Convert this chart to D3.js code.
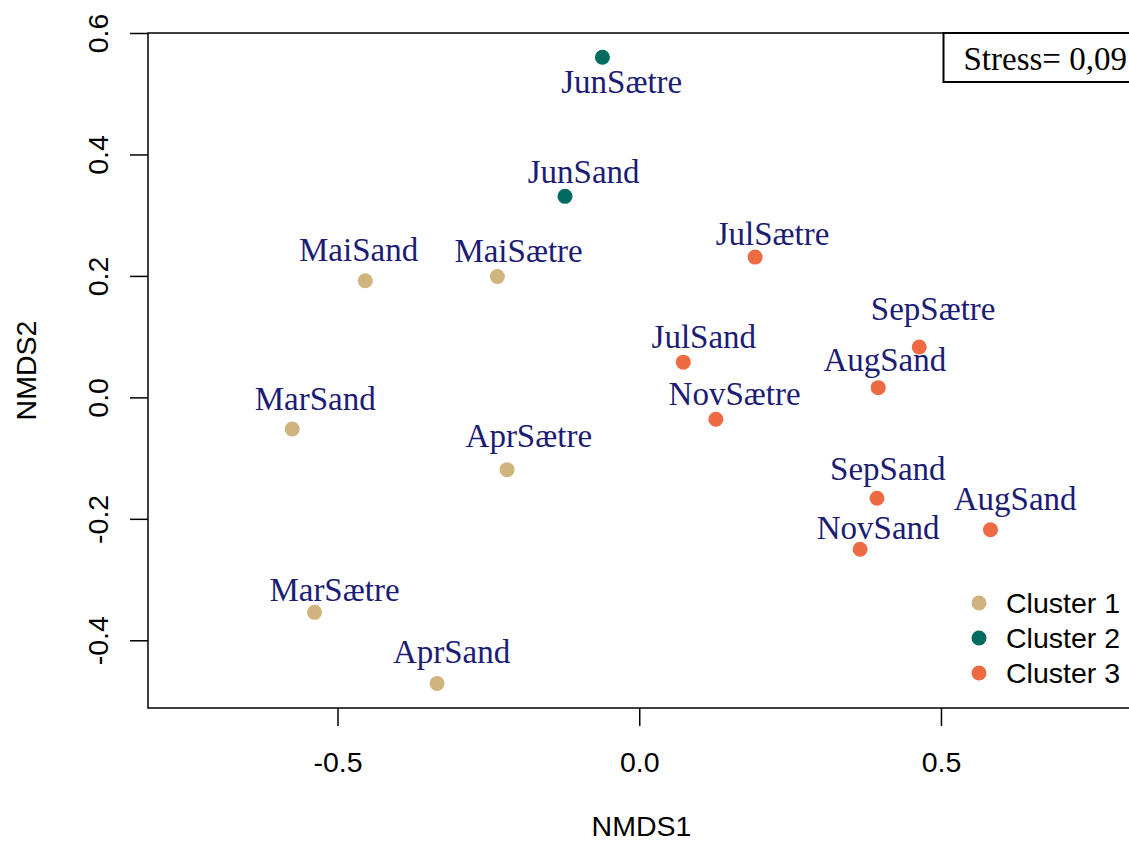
<!DOCTYPE html>
<html>
<head>
<meta charset="utf-8">
<script src="https://cdn.jsdelivr.net/npm/d3@7"></script>
<style>
  body { margin: 0; background: #fff; }
  svg { display: block; }
</style>
</head>
<body>
<svg id="chart" width="1129" height="841"></svg>
<script>
// site scores
const sites = ["JunSætre", "JunSand", "MaiSand", "MaiSætre", "JulSætre", "JulSand", "SepSætre", "AugSand",
               "NovSætre", "MarSand", "AprSætre", "SepSand", "AugSand", "NovSand", "MarSætre", "AprSand"];
const nmds1 = [-0.061, -0.123, -0.454, -0.235, 0.192, 0.073, 0.464, 0.396,
               0.127, -0.575, -0.219, 0.394, 0.582, 0.366, -0.538, -0.335];
const nmds2 = [0.560, 0.331, 0.192, 0.199, 0.231, 0.058, 0.083, 0.016,
               -0.036, -0.052, -0.119, -0.166, -0.218, -0.250, -0.354, -0.471];
const cluster = [2, 2, 1, 1, 3, 3, 3, 3, 3, 1, 1, 3, 3, 3, 1, 1];
// where each label sits (data units: centre x, baseline y)
const labelX = [-0.029, -0.092, -0.465, -0.200, 0.221, 0.107, 0.487, 0.407,
                0.158, -0.537, -0.183, 0.412, 0.623, 0.396, -0.505, -0.311];
const labelY = [0.502, 0.353, 0.224, 0.223, 0.251, 0.082, 0.127, 0.043,
                -0.013, -0.021, -0.081, -0.136, -0.186, -0.234, -0.335, -0.437];

const clusterNames = ["Cluster 1", "Cluster 2", "Cluster 3"];
const clusterColors = ["#d0b47e", "#006b5f", "#ee6a42"];
const xTicks = [-0.5, 0.0, 0.5];
const yTicks = [-0.4, -0.2, 0.0, 0.2, 0.4, 0.6];
const stressText = "Stress= 0,09";

const margin = {top: 33, left: 148, bottom: 708, right: 1135};
const sans = "'Liberation Sans', Arial, Helvetica, sans-serif";
const serif = "'Liberation Serif', 'Times New Roman', serif";

const svg = d3.select("#chart");

const x = d3.scaleLinear()
    .domain([-0.814, 0.8215])
    .range([margin.left, margin.right]);
const y = d3.scaleLinear()
    .domain([-0.5115, 0.6])
    .range([margin.bottom, margin.top]);
const color = d3.scaleOrdinal().domain([1, 2, 3]).range(clusterColors);

// box
svg.append("rect")
    .attr("x", margin.left).attr("y", margin.top)
    .attr("width", margin.right - margin.left)
    .attr("height", margin.bottom - margin.top)
    .attr("fill", "none").attr("stroke", "#000").attr("stroke-width", 1.5);

const xAxis = svg.append("g")
    .attr("transform", `translate(0,${margin.bottom})`)
    .call(d3.axisBottom(x).tickValues(xTicks).tickSize(18).tickFormat(d => d.toFixed(1)));
xAxis.select(".domain").remove();
xAxis.selectAll("line").attr("stroke-width", 1.5);
xAxis.selectAll("text")
    .attr("y", 64).attr("dy", 0)
    .attr("font-family", sans).attr("font-size", 28.5).attr("fill", "#000");

const yAxis = svg.append("g")
    .attr("transform", `translate(${margin.left},0)`)
    .call(d3.axisLeft(y).tickValues(yTicks).tickSize(18).tickFormat(d => d.toFixed(1)));
yAxis.select(".domain").remove();
yAxis.selectAll("line").attr("stroke-width", 1.5);
yAxis.selectAll("text")
    .attr("transform", "rotate(-90)")
    .attr("x", 0).attr("y", -40).attr("dy", 0)
    .attr("text-anchor", "middle")
    .attr("font-family", sans).attr("font-size", 28.5).attr("fill", "#000");

svg.append("text")
    .attr("x", (margin.left + margin.right) / 2).attr("y", 836)
    .attr("text-anchor", "middle")
    .attr("font-family", sans).attr("font-size", 28.5)
    .text("NMDS1");
svg.append("text")
    .attr("transform", `translate(36,${(margin.top + margin.bottom) / 2}) rotate(-90)`)
    .attr("text-anchor", "middle")
    .attr("font-family", sans).attr("font-size", 28.5)
    .text("NMDS2");

const idx = d3.range(sites.length);

svg.selectAll(".site")
    .data(idx)
    .enter().append("circle")
    .attr("class", "site")
    .attr("cx", i => x(nmds1[i]))
    .attr("cy", i => y(nmds2[i]))
    .attr("r", 7.5)
    .attr("fill", i => color(cluster[i]));

svg.selectAll(".lab")
    .data(idx)
    .enter().append("text")
    .attr("class", "lab")
    .attr("x", i => x(labelX[i]))
    .attr("y", i => y(labelY[i]))
    .attr("text-anchor", "middle")
    .attr("font-family", serif).attr("font-size", 33)
    .attr("fill", "#1c1c74")
    .text(i => sites[i]);

// stress box, top right (runs off the edge like the original)
svg.append("rect")
    .attr("x", 943.5).attr("y", margin.top)
    .attr("width", 220).attr("height", 49)
    .attr("fill", "#fff").attr("stroke", "#000").attr("stroke-width", 2);
svg.append("text")
    .attr("x", 963.5).attr("y", 69.5)
    .attr("font-family", serif).attr("font-size", 33)
    .text(stressText);

// legend
const legend = svg.append("g").attr("transform", "translate(979,603)");
legend.selectAll("circle")
    .data(clusterNames)
    .enter().append("circle")
    .attr("cx", 0).attr("cy", (d, i) => i * 35)
    .attr("r", 7.5)
    .attr("fill", (d, i) => clusterColors[i]);
legend.selectAll("text")
    .data(clusterNames)
    .enter().append("text")
    .attr("x", 27).attr("y", (d, i) => i * 35)
    .attr("dy", "0.35em")
    .attr("font-family", sans).attr("font-size", 28.5)
    .text(d => d);
</script>
</body>
</html>
